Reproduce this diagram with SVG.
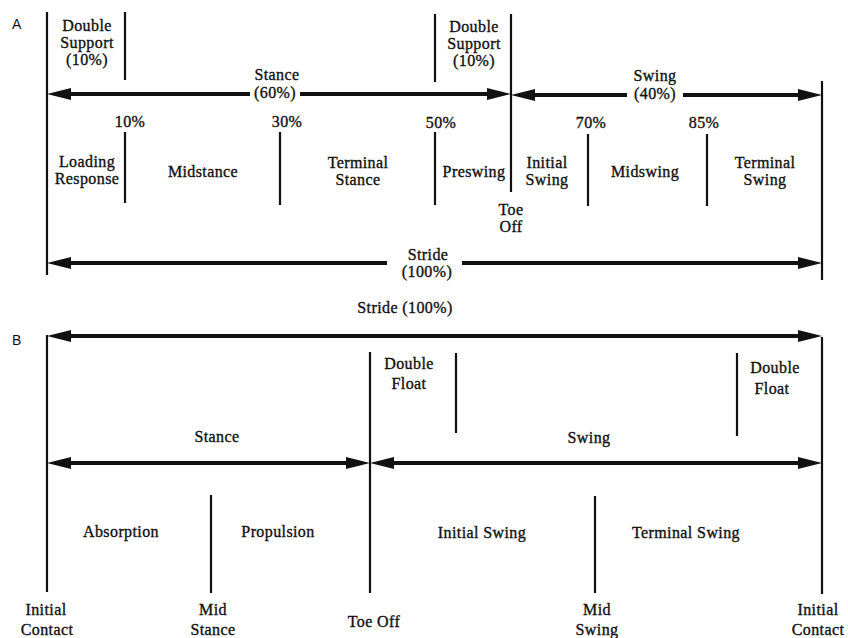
<svg xmlns="http://www.w3.org/2000/svg" width="848" height="638" viewBox="0 0 848 638">
<style>
text{font-family:'Liberation Serif','DejaVu Serif',serif;font-size:16px;fill:#111;stroke:#111;stroke-width:0.35;text-anchor:middle;letter-spacing:0.4px}
text.lab{font-family:'Liberation Sans','DejaVu Sans',sans-serif;font-size:14px;text-anchor:start;letter-spacing:0;stroke:none}
.v{stroke:#111;stroke-width:2.2;fill:none}
.a{stroke:#111;stroke-width:4;fill:none}
.s{marker-start:url(#ah)}
.e{marker-end:url(#ah)}
</style>
<defs>
<marker id="ah" viewBox="0 0 24 12" refX="9" refY="6" markerWidth="24" markerHeight="12" markerUnits="userSpaceOnUse" orient="auto-start-reverse"><path d="M0,0 L24,6 L0,12 z" fill="#111"/></marker>
</defs>
<rect width="848" height="638" fill="#fff"/>
<g id="connectors">
<line class="v" x1="47" y1="12" x2="47" y2="275"/>
<line class="v" x1="125" y1="12" x2="125" y2="80"/>
<line class="v" x1="435" y1="14" x2="435" y2="82"/>
<line class="v" x1="511" y1="14" x2="511" y2="192"/>
<line class="v" x1="822" y1="81" x2="822" y2="280"/>
<line class="v" x1="125" y1="132" x2="125" y2="203"/>
<line class="v" x1="280" y1="132" x2="280" y2="205"/>
<line class="v" x1="435" y1="132" x2="435" y2="205"/>
<line class="v" x1="588" y1="134" x2="588" y2="206"/>
<line class="v" x1="707" y1="134" x2="707" y2="206"/>
<line class="a s" x1="62" y1="94" x2="250" y2="94"/>
<line class="a e" x1="300" y1="94" x2="496" y2="94"/>
<line class="a s" x1="526" y1="95" x2="627" y2="95"/>
<line class="a e" x1="683" y1="95" x2="807" y2="95"/>
<line class="a s" x1="62" y1="263" x2="387" y2="263"/>
<line class="a e" x1="462" y1="263" x2="807" y2="263"/>
<line class="v" x1="47" y1="335" x2="47" y2="592"/>
<line class="v" x1="822" y1="337" x2="822" y2="594"/>
<line class="v" x1="370" y1="352" x2="370" y2="593"/>
<line class="v" x1="456" y1="353" x2="456" y2="433"/>
<line class="v" x1="737" y1="353" x2="737" y2="436"/>
<line class="v" x1="211" y1="495" x2="211" y2="593"/>
<line class="v" x1="595" y1="496" x2="595" y2="593"/>
<line class="a s e" x1="62" y1="336" x2="807" y2="336"/>
<line class="a s e" x1="62" y1="463" x2="355" y2="463"/>
<line class="a s e" x1="385" y1="463" x2="807" y2="463"/>
</g>
<g id="label-A"><text class="lab" x="12" y="29">A</text></g>
<g id="double-support-1"><text x="87" y="31">Double</text><text x="87" y="48">Support</text><text x="87" y="65">(10%)</text></g>
<g id="double-support-2"><text x="474" y="32">Double</text><text x="474" y="49">Support</text><text x="474" y="66">(10%)</text></g>
<g id="stance-a"><text x="277" y="80">Stance</text><text x="275" y="98">(60%)</text></g>
<g id="swing-a"><text x="655" y="81">Swing</text><text x="655" y="99">(40%)</text></g>
<g id="pct-10"><text x="130" y="127">10%</text></g>
<g id="pct-30"><text x="287" y="127">30%</text></g>
<g id="pct-50"><text x="441" y="128">50%</text></g>
<g id="pct-70"><text x="591" y="128">70%</text></g>
<g id="pct-85"><text x="704" y="128">85%</text></g>
<g id="loading-response"><text x="87" y="167">Loading</text><text x="87" y="184">Response</text></g>
<g id="midstance"><text x="203" y="177">Midstance</text></g>
<g id="terminal-stance"><text x="358" y="168">Terminal</text><text x="358" y="185">Stance</text></g>
<g id="preswing"><text x="474" y="177">Preswing</text></g>
<g id="initial-swing-a"><text x="547" y="168">Initial</text><text x="547" y="185">Swing</text></g>
<g id="midswing"><text x="645" y="177">Midswing</text></g>
<g id="terminal-swing-a"><text x="765" y="168">Terminal</text><text x="765" y="185">Swing</text></g>
<g id="toe-off-a"><text x="511" y="215">Toe</text><text x="511" y="232">Off</text></g>
<g id="stride-a"><text x="428" y="260">Stride</text><text x="427" y="277">(100%)</text></g>
<g id="stride-b"><text x="405" y="313">Stride (100%)</text></g>
<g id="label-B"><text class="lab" x="12" y="345">B</text></g>
<g id="double-float-1"><text x="409" y="369">Double</text><text x="409" y="389">Float</text></g>
<g id="double-float-2"><text x="775" y="373">Double</text><text x="772" y="394">Float</text></g>
<g id="stance-b"><text x="217" y="442">Stance</text></g>
<g id="swing-b"><text x="589" y="443">Swing</text></g>
<g id="absorption"><text x="121" y="537">Absorption</text></g>
<g id="propulsion"><text x="278" y="537">Propulsion</text></g>
<g id="initial-swing-b"><text x="482" y="538">Initial Swing</text></g>
<g id="terminal-swing-b"><text x="686" y="538">Terminal Swing</text></g>
<g id="initial-contact-1"><text x="46" y="615">Initial</text><text x="47" y="635">Contact</text></g>
<g id="mid-stance"><text x="213" y="615">Mid</text><text x="213" y="635">Stance</text></g>
<g id="toe-off-b"><text x="374" y="627">Toe Off</text></g>
<g id="mid-swing"><text x="597" y="615">Mid</text><text x="597" y="635">Swing</text></g>
<g id="initial-contact-2"><text x="818" y="615">Initial</text><text x="818" y="635">Contact</text></g>
</svg>
